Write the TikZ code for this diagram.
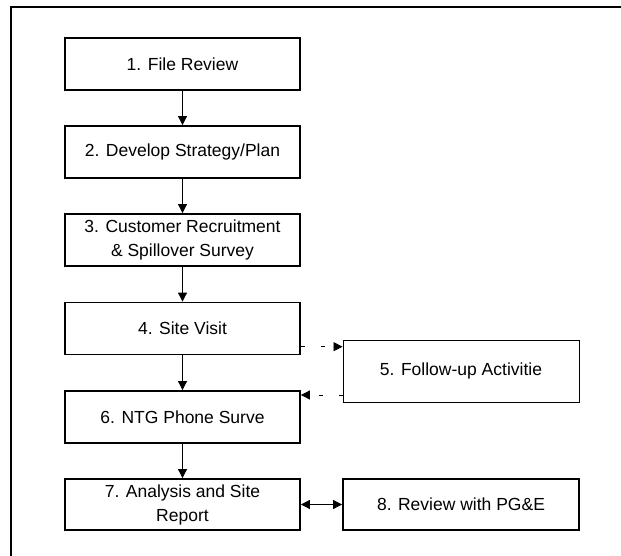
\documentclass[tikz,border=0pt]{standalone}
\usepackage{fontspec}
\setmainfont{Liberation Sans}
\usetikzlibrary{arrows.meta,calc}

\tikzset{
  stepbox/.style={draw=black, line width=1.8pt, rectangle, minimum width=235pt,
    minimum height=52pt, inner sep=0pt, align=center,
    font=\fontsize{17.5}{24}\selectfont},
  sidebox/.style={stepbox, line width=0.9pt, minimum width=236pt, minimum height=62pt},
  flow/.style={line width=0.8pt, -{Triangle[length=9pt,width=9pt]}},
  optflow/.style={flow, dash pattern=on 4pt off 16pt},
  twoway/.style={line width=0.8pt, {Triangle[length=9pt,width=9pt]}-{Triangle[length=9pt,width=9pt]}}
}

\begin{document}
\begin{tikzpicture}[x=1pt, y=-1pt]
  \useasboundingbox (0,0) rectangle (621,556);

  % outer frame (top and left rules)
  \coordinate (fbl) at (11,556);
  \coordinate (ftl) at (11,7.5);
  \coordinate (ftr) at (621,7.5);
  \draw[line width=2pt] (fbl) -- (ftl) -- (ftr);

  % main sequence
  \node[stepbox] (b1) at (182.5,64)  {1. File Review};
  \node[stepbox] (b2) at (182.5,152) {2. Develop Strategy/Plan};
  \node[stepbox] (b3) at (182.5,240) {3. Customer Recruitment\\\& Spillover Survey};
  \node[stepbox] (b4) at (182.5,328.5) {4. Site Visit};
  \node[stepbox] (b6) at (182.5,417) {6. NTG Phone Surve};
  \node[stepbox, minimum height=51pt] (b7) at (182.5,504.5) {7. Analysis and Site\\Report};

  % side steps
  \node[sidebox] (b5) at (461,371) {5. Follow-up Activitie};
  \node[stepbox, minimum width=236pt, minimum height=51pt] (b8) at (461,504.5) {8. Review with PG\&E};

  % connectors
  \draw[flow] (b1) -- (b2);
  \draw[flow] (b2) -- (b3);
  \draw[flow] (b3) -- (b4);
  \draw[flow] (b4) -- (b6);
  \draw[flow] (b6) -- (b7);

  \draw[optflow] ([yshift=-18.2pt]b4.east) -- ([yshift=-18.2pt]b4.east -| b5.west);
  \draw[optflow] ([yshift=-24pt]b5.west) -- ([yshift=-24pt]b5.west -| b6.east);

  \draw[twoway] (b7) -- (b8);
\end{tikzpicture}
\end{document}
